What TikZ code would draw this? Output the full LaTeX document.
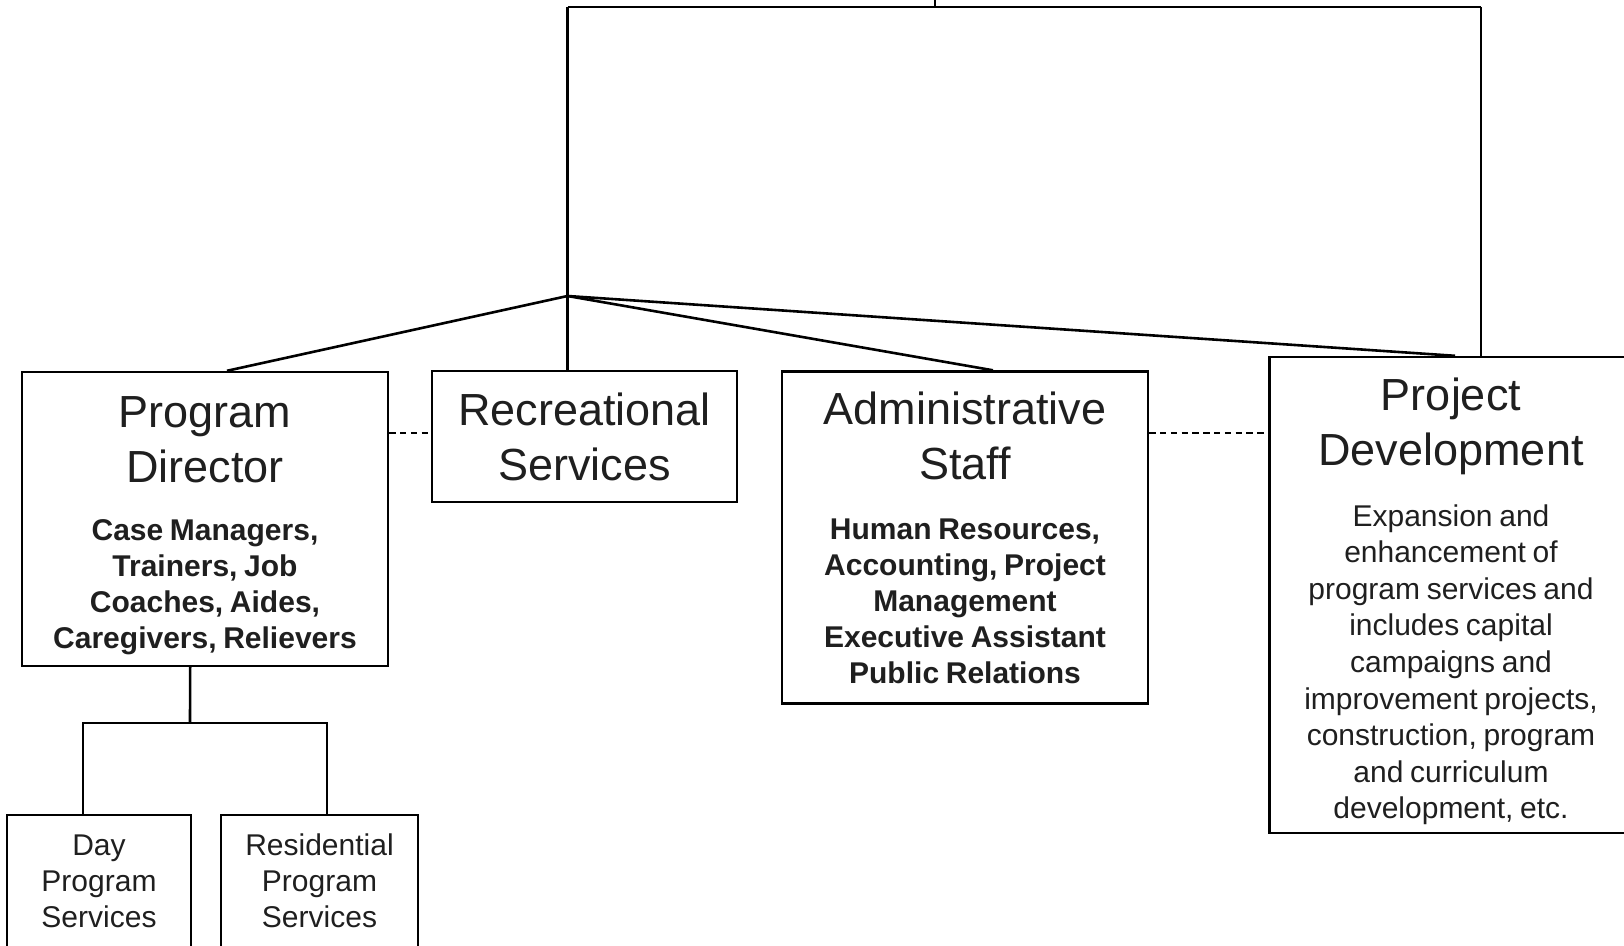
\documentclass[tikz,border=0pt]{standalone}
\usepackage{fontspec}
\setmainfont{Liberation Sans}
\newcommand{\ttl}{\fontsize{22.5}{27.5}\selectfont}
\newcommand{\sml}{\fontsize{15}{18}\selectfont}
\newcommand{\lift}[1]{\par\vskip#1\nointerlineskip\hbox{}}
\begin{document}
\begin{tikzpicture}[x=0.5pt,y=-0.5pt,
  unit/.style={draw,line width=1.2pt,inner sep=0pt,align=center,text=black!88},
  link/.style={line width=1.3pt},
  dashlink/.style={line width=1pt,dash pattern=on 3.2pt off 2.2pt}]
\useasboundingbox (0,0) rectangle (1624,946);
% boxes
\node[unit,minimum width=183pt,minimum height=147pt,text width=175pt] (pd) at (205,519)
  {{\ttl Program\\Director\par}\vskip11pt
   {\sml\bfseries Case Managers,\\Trainers, Job\\Coaches, Aides,\\Caregivers, Relievers\par}\lift{-7.2pt}};
\node[unit,minimum width=152.5pt,minimum height=65.5pt,text width=150pt] (rec) at (584.5,436.5)
  {{\ttl Recreational\\Services\par}};
\node[unit,minimum width=183pt,minimum height=166pt,text width=175pt] (admin) at (965,537.5)
  {{\ttl Administrative\\Staff\par}\vskip12pt
   {\sml\bfseries Human Resources,\\Accounting, Project\\Management\\Executive Assistant\\Public Relations\par}};
\node[unit,minimum width=181.5pt,minimum height=238pt,text width=175pt] (proj) at (1451,595)
  {{\ttl Project\\Development\par}\vskip12pt
   {\fontsize{15}{18.3}\selectfont Expansion and\\enhancement of\\program services and\\includes capital\\campaigns and\\improvement projects,\\construction, program\\and curriculum\\development, etc.\par}\lift{-6.6pt}};
\node[unit,minimum width=92pt,minimum height=66pt,text width=88pt] (day) at (99,881)
  {{\sml Day\\Program\\Services\par}};
\node[unit,minimum width=98.5pt,minimum height=66pt,text width=95pt] (res) at (319.5,881)
  {{\sml Residential\\Program\\Services\par}};
% connectors
\coordinate (top) at (935,0);
\coordinate (topL) at (567.5,7);
\coordinate (topR) at (1481,7);
\coordinate (apex) at (567.5,296);
\coordinate (fork) at (190,723);
\draw[link] (top) -- (top |- topL);
\draw[link] (topL) -- (topR);
\draw[link] (topL) -- (topL |- rec.north);
\draw[link] (topR) -- (topR |- proj.north);
\draw[link] (apex) -- ([xshift=11pt]pd.north);
\draw[link] (apex) -- ([xshift=14pt]admin.north);
\draw[link] (apex) -- ([xshift=2pt]proj.north);
\draw[dashlink] ([yshift=43pt]pd.east) -- ([yshift=43pt]pd.east -| rec.west);
\draw[dashlink] ([yshift=52pt]admin.east) -- ([yshift=52pt]admin.east -| proj.west);
\draw[link] ([xshift=-7.4pt]pd.south) -- (fork);
\draw[link] ([xshift=-8pt]day.north) |- (fork) -| ([xshift=3.75pt]res.north);
\end{tikzpicture}
\end{document}
